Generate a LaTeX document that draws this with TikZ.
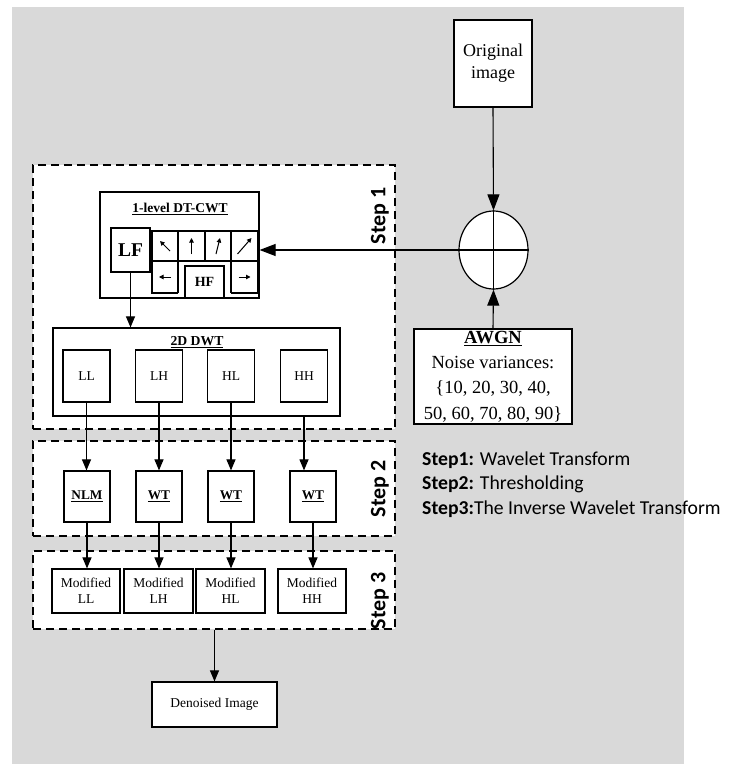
\documentclass[tikz,border=0pt]{standalone}
\usepackage{fontspec}
\setmainfont{Liberation Serif}
\newfontfamily\calfont{Carlito}
\usetikzlibrary{arrows.meta,shapes.geometric,calc}
\begin{document}
\begin{tikzpicture}[x=1pt,y=-1pt,
  box/.style={draw,fill=white,line width=1.2pt,inner sep=0pt,align=center},
  stepbox/.style={draw,fill=white,dash pattern=on 8pt off 5pt,line width=1.4pt,inner sep=0pt},
  arr/.style={line width=1.1pt,-{Triangle[length=11pt,width=9pt]}},
  bigarr/.style={line width=1.1pt,-{Triangle[length=16pt,width=12pt]}},
  gridl/.style={line width=2.2pt},
  cellarr/.style={line width=1pt,-{Triangle[length=4.5pt,width=4.5pt]}},
  steplabel/.style={rotate=90,font=\calfont\bfseries\fontsize{22}{26}\selectfont,inner sep=0pt},
  legend/.style={anchor=base west,inner sep=0pt,font=\calfont\fontsize{19.7}{24}\selectfont},
  small/.style={font=\fontsize{13.5}{16}\selectfont},
]
\useasboundingbox (0,0) rectangle (751,765);
\fill[fill={rgb,255:red,217;green,217;blue,217}] (12,7) rectangle (684,764);

% step frames
\node[stepbox,minimum width=362pt,minimum height=264pt] (step1) at (214,297) {};
\node[stepbox,minimum width=362pt,minimum height=95pt] (step2) at (214,488.5) {};
\node[stepbox,minimum width=362pt,minimum height=78pt] (step3) at (214,590) {};
\node[steplabel] (s1lab) at (380,216) {Step 1};
\node[steplabel] (s2lab) at (380,489) {Step 2};
\node[steplabel] (s3lab) at (380,601) {Step 3};

% right column
\node[box,minimum width=78pt,minimum height=87pt,font=\fontsize{18}{22}\selectfont] (orig) at (493,63.5) {Original\\image};
\node[draw,fill=white,ellipse,line width=1.2pt,minimum width=69pt,minimum height=78pt,inner sep=0pt] (sum) at (493.5,250) {};
\draw[line width=1.1pt] (sum.north) -- (sum.south);
\node[box,minimum width=158pt,minimum height=95pt,font=\fontsize{18.5}{25.3}\selectfont] (awgn) at (493,376.5) {\textbf{\underline{AWGN}}\\Noise variances:\\\{10, 20, 30, 40,\\50, 60, 70, 80, 90\}};

% DT-CWT block
\node[box,minimum width=159pt,minimum height=106pt] (dtcwt) at (179.5,245) {};
\node[inner sep=0pt,font=\bfseries\fontsize{13.5}{16}\selectfont] (dttitle) at (180,209) {\underline{1-level DT-CWT}};
\node[box,minimum width=39pt,minimum height=44pt,font=\bfseries\fontsize{19.5}{22}\selectfont] (lf) at (130.5,250) {LF};
\draw[gridl] (178,293) -- (152,293) -- (152,231) -- (258,231) -- (258,293) -- (231,293);
\draw[gridl] (152,261) -- (258,261);
\draw[gridl] (178,231) -- (178,293);
\draw[gridl] (205,231) -- (205,261);
\draw[gridl] (231,231) -- (231,293);
\node[box,minimum width=39pt,minimum height=32pt,font=\bfseries\fontsize{14}{16}\selectfont] (hf) at (204.5,282) {HF};
\coordinate (c1) at (165,246);
\coordinate (c2) at (191.5,246);
\coordinate (c3) at (218,246);
\coordinate (c4) at (244.5,246);
\coordinate (c5) at (165,277);
\coordinate (c6) at (244.5,277);
\draw[cellarr] ($(c1)+(5,5)$) -- ($(c1)+(-5,-5)$);
\draw[cellarr] ($(c2)+(0,8)$) -- ($(c2)+(0,-8)$);
\draw[cellarr] ($(c3)+(-2,8)$) -- ($(c3)+(2,-8)$);
\draw[cellarr] ($(c4)+(-7,8)$) -- ($(c4)+(7,-8)$);
\draw[cellarr] ($(c5)+(6,0)$) -- ($(c5)+(-6,0)$);
\draw[cellarr] ($(c6)+(-6,0)$) -- ($(c6)+(6,0)$);

% 2D DWT block
\node[box,minimum width=287pt,minimum height=88pt] (dwt) at (196.5,372) {};
\node[inner sep=0pt,font=\bfseries\fontsize{13.7}{16}\selectfont] (dwttitle) at (197,342) {\underline{2D DWT}};
\node[box,small,minimum width=47pt,minimum height=52pt] (ll) at (86.5,376) {LL};
\node[box,small,minimum width=47pt,minimum height=52pt] (lh) at (159,376) {LH};
\node[box,small,minimum width=47pt,minimum height=52pt] (hl) at (231,376) {HL};
\node[box,small,minimum width=47pt,minimum height=52pt] (hh) at (304,376) {HH};

% Step 2
\node[box,minimum width=46pt,minimum height=51pt,font=\bfseries\fontsize{13.3}{16}\selectfont] (nlm) at (87,496.5) {\underline{NLM}};
\node[box,minimum width=46pt,minimum height=51pt,font=\bfseries\fontsize{13.3}{16}\selectfont] (wt1) at (159,496.5) {\underline{WT}};
\node[box,minimum width=46pt,minimum height=51pt,font=\bfseries\fontsize{13.3}{16}\selectfont] (wt2) at (231,496.5) {\underline{WT}};
\node[box,minimum width=46pt,minimum height=51pt,font=\bfseries\fontsize{13.3}{16}\selectfont] (wt3) at (313,496.5) {\underline{WT}};

% Step 3
\node[box,small,minimum width=68pt,minimum height=44pt] (mll) at (86,591) {Modified\\LL};
\node[box,small,minimum width=69pt,minimum height=44pt] (mlh) at (158.5,591) {Modified\\LH};
\node[box,small,minimum width=69pt,minimum height=44pt] (mhl) at (230.5,591) {Modified\\HL};
\node[box,small,minimum width=68pt,minimum height=44pt] (mhh) at (312,591) {Modified\\HH};

\node[box,small,minimum width=125pt,minimum height=45pt] (den) at (214.5,704.5) {Denoised Image};

% legend
\node[legend] (leg1) at (422,465) {\textbf{Step1:} Wavelet Transform};
\node[legend] (leg2) at (422,489.5) {\textbf{Step2:} Thresholding};
\node[legend] (leg3) at (422,514) {\textbf{Step3:}The Inverse Wavelet Transform};

% connectors
\draw[bigarr] (orig.south) -- (sum.north);
\draw[bigarr] (awgn.north) -- (sum.south);
\draw[bigarr] (sum.east) -- (sum.east -| dtcwt.east);
\draw[arr] (lf.south) -- (lf.south |- dwt.north);
\draw[arr] (ll.south) -- (ll.south |- nlm.north);
\draw[arr] (lh.south) -- (lh.south |- wt1.north);
\draw[arr] (hl.south) -- (hl.south |- wt2.north);
\draw[arr] (hh.south |- dwt.south) -- (hh.south |- wt3.north);
\draw[arr] (nlm.south) -- (nlm.south |- mll.north);
\draw[arr] (wt1.south) -- (wt1.south |- mlh.north);
\draw[arr] (wt2.south) -- (wt2.south |- mhl.north);
\draw[arr] (wt3.south) -- (wt3.south |- mhh.north);
\draw[arr] (den.north |- step3.south) -- (den.north);
\end{tikzpicture}
\end{document}
